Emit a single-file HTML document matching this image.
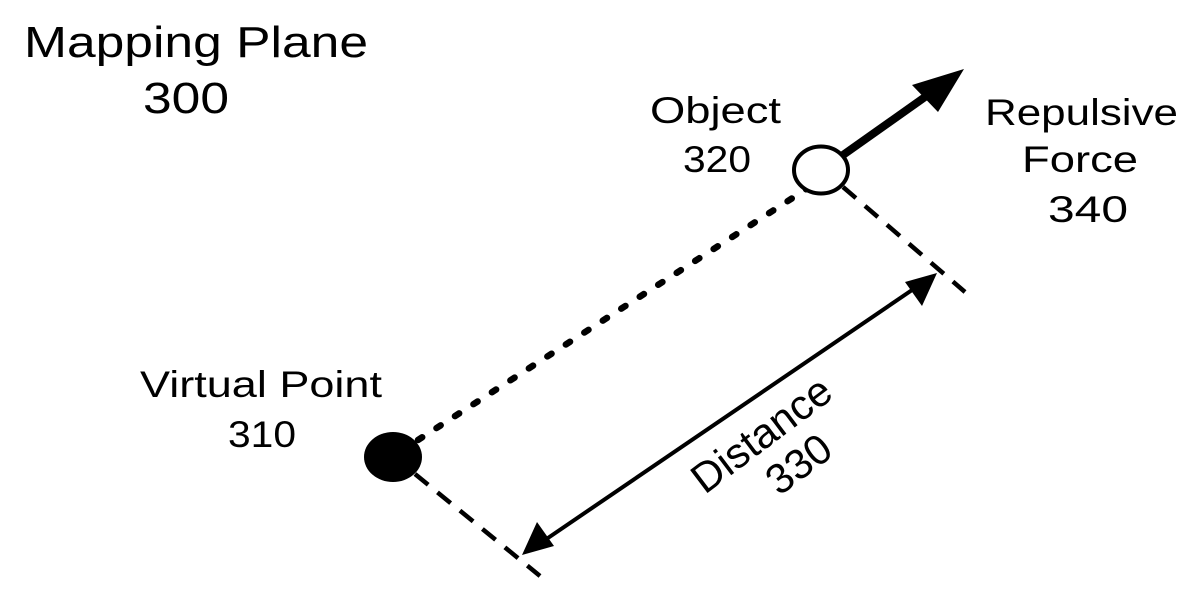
<!DOCTYPE html>
<html><head><meta charset="utf-8"><style>html,body{margin:0;padding:0;background:#fff;}svg{display:block}</style></head>
<body>
<svg width="1200" height="597" viewBox="0 0 1200 597" xmlns="http://www.w3.org/2000/svg" font-family="Liberation Sans, Arial, sans-serif" fill="#000">
<text x="24" y="57" font-size="44" textLength="344" lengthAdjust="spacingAndGlyphs">Mapping Plane</text>
<text x="143" y="113" font-size="44" textLength="86" lengthAdjust="spacingAndGlyphs">300</text>
<text x="650" y="123" font-size="37" textLength="131" lengthAdjust="spacingAndGlyphs">Object</text>
<text x="683" y="172" font-size="37" textLength="68" lengthAdjust="spacingAndGlyphs">320</text>
<text x="985" y="125" font-size="37" textLength="193" lengthAdjust="spacingAndGlyphs">Repulsive</text>
<text x="1022" y="172" font-size="37" textLength="116" lengthAdjust="spacingAndGlyphs">Force</text>
<text x="1048" y="222" font-size="37" textLength="80" lengthAdjust="spacingAndGlyphs">340</text>
<text x="140" y="397" font-size="37" textLength="242" lengthAdjust="spacingAndGlyphs">Virtual Point</text>
<text x="228" y="447" font-size="37" textLength="68" lengthAdjust="spacingAndGlyphs">310</text>
<g transform="translate(770,446) rotate(-37)">
<text x="0" y="0" font-size="42" text-anchor="middle">Distance</text>
<text x="12" y="46" font-size="42" text-anchor="middle">330</text>
</g>
<!-- dotted -->
<line x1="418" y1="440" x2="808" y2="188" stroke="#000" stroke-width="6.5" stroke-dasharray="5 17" stroke-linecap="round"/>
<!-- dashed -->
<line x1="843" y1="187" x2="965" y2="292" stroke="#000" stroke-width="4.5" stroke-dasharray="17 12"/>
<line x1="415" y1="474" x2="540" y2="576" stroke="#000" stroke-width="4.5" stroke-dasharray="17 12"/>
<!-- circles -->
<ellipse cx="821" cy="170" rx="27" ry="23.5" fill="#fff" stroke="#000" stroke-width="4"/>
<ellipse cx="393" cy="457" rx="29" ry="25" fill="#000"/>
<!-- repulsive force arrow -->
<line x1="843" y1="155" x2="925" y2="97" stroke="#000" stroke-width="8"/>
<polygon points="964,69 938,112 912,85" fill="#000"/>
<!-- distance double arrow -->
<line x1="545" y1="540" x2="915" y2="288" stroke="#000" stroke-width="4"/>
<polygon points="937,273 922,306 905,282" fill="#000"/>
<polygon points="522,555 537,522 554,546" fill="#000"/>
</svg>
</body></html>
